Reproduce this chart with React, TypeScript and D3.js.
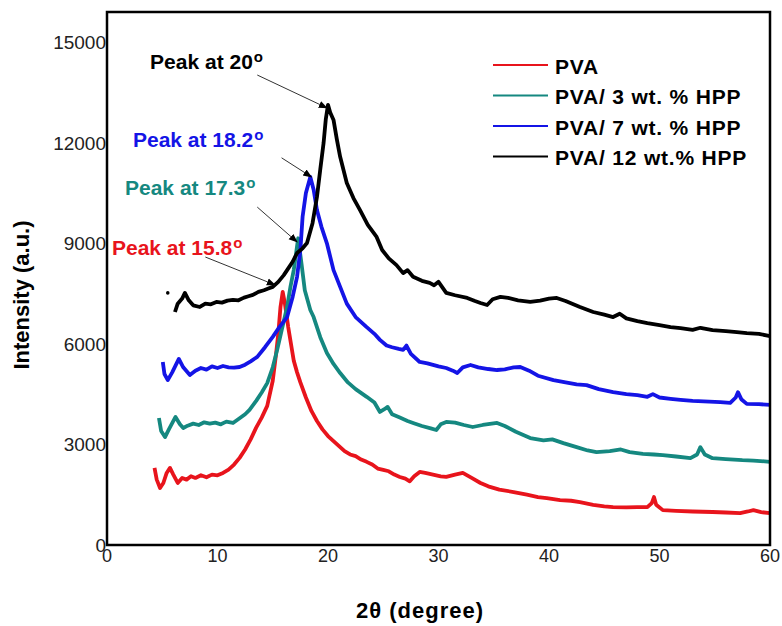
import * as d3 from 'd3';

// XRD patterns, [2θ, intensity]
const pva: [number, number][] = [
  [4.3, 2300], [4.5, 1950], [4.8, 1700], [5.1, 1850], [5.4, 2150], [5.7, 2300], [6.0, 2100], [6.4, 1850],
  [6.8, 2000], [7.2, 1950], [7.6, 2050], [8.0, 2000], [8.5, 2080], [9.0, 2020], [9.5, 2100], [10.0, 2080],
  [10.5, 2150], [11.0, 2250], [11.5, 2400], [12.0, 2600], [12.5, 2850], [13.0, 3150], [13.5, 3500], [14.0, 3800],
  [14.5, 4150], [15.0, 4900], [15.3, 5700], [15.5, 6300], [15.7, 7100], [15.9, 7550], [16.1, 7200], [16.4, 6500],
  [16.7, 5900], [16.9, 5500], [17.2, 5150], [17.5, 4850], [18.0, 4400], [18.5, 4000], [19.0, 3700], [19.5, 3450],
  [20.0, 3250], [20.5, 3100], [21.0, 2950], [21.5, 2800], [22.0, 2700], [22.5, 2650], [23.0, 2550], [23.5, 2480],
  [24.0, 2400], [24.5, 2280], [25.0, 2240], [25.5, 2200], [26.0, 2100], [26.5, 2030], [27.0, 1980], [27.4, 1900],
  [27.8, 2050], [28.3, 2180], [28.8, 2150], [29.5, 2100], [30.2, 2050], [30.7, 2030], [31.5, 2100], [32.2, 2150],
  [33.0, 2000], [33.8, 1850], [34.5, 1750], [35.5, 1650], [36.8, 1580], [38.0, 1500], [39.0, 1430], [39.8, 1400],
  [41.0, 1340], [42.0, 1320], [42.8, 1280], [44.0, 1200], [45.0, 1150], [45.8, 1130], [47.0, 1120], [48.0, 1130],
  [48.9, 1130], [49.3, 1250], [49.5, 1430], [49.7, 1200], [50.3, 1040], [51.5, 1020], [53.0, 1000], [54.8, 985],
  [56.0, 970], [57.3, 950], [58.0, 1000], [58.5, 1040], [59.2, 980], [60, 950],
];

const pva3: [number, number][] = [
  [4.7, 3790], [4.9, 3400], [5.25, 3220], [5.6, 3450], [6.2, 3820], [6.6, 3600], [6.9, 3490], [7.3, 3560],
  [7.8, 3620], [8.3, 3580], [8.8, 3660], [9.3, 3620], [9.8, 3650], [10.3, 3600], [10.8, 3680], [11.4, 3640],
  [12.0, 3780], [12.5, 3900], [12.9, 4030], [13.5, 4300], [14.0, 4550], [14.5, 4830], [15.0, 5300], [15.4, 5820],
  [15.8, 6400], [16.3, 7100], [16.6, 7700], [16.9, 8200], [17.3, 9150], [17.6, 8400], [17.9, 7600], [18.4, 7010],
  [18.7, 6800], [19.3, 6200], [19.9, 5730], [20.5, 5400], [21.1, 5130], [21.8, 4850], [22.5, 4650], [23.5, 4420],
  [24.2, 4250], [24.7, 3970], [25.1, 4050], [25.4, 4120], [25.8, 3900], [26.5, 3800], [27.2, 3700], [27.7, 3640],
  [28.5, 3550], [29.3, 3480], [29.8, 3430], [30.2, 3600], [30.7, 3670], [31.5, 3650], [32.3, 3580], [33.1, 3520],
  [34.0, 3580], [35.3, 3640], [36.0, 3550], [37.0, 3380], [38.3, 3190], [39.5, 3120], [40.3, 3150], [41.3, 3040],
  [42.5, 2920], [43.5, 2820], [44.3, 2770], [45.5, 2800], [46.5, 2850], [47.3, 2770], [48.5, 2720], [49.5, 2700],
  [50.3, 2680], [51.5, 2640], [52.8, 2590], [53.4, 2700], [53.7, 2920], [54.1, 2700], [54.8, 2590], [56.0, 2560],
  [57.5, 2530], [58.5, 2520], [60, 2480],
];

const pva7: [number, number][] = [
  [5.05, 5460], [5.2, 5100], [5.5, 4920], [5.9, 5150], [6.5, 5550], [6.9, 5300], [7.5, 5070], [8.0, 5200],
  [8.5, 5280], [9.0, 5230], [9.5, 5330], [10.0, 5280], [10.5, 5340], [11.0, 5300], [11.5, 5290], [12.0, 5310],
  [12.5, 5380], [13.0, 5480], [13.6, 5610], [14.3, 5900], [15.0, 6210], [15.6, 6500], [16.3, 6800], [16.8, 7400],
  [17.2, 8000], [17.5, 8800], [17.7, 9790], [18.0, 10500], [18.4, 10980], [18.7, 10600], [19.0, 9990], [19.4, 9500],
  [19.9, 9000], [20.5, 8200], [21.1, 7700], [21.7, 7200], [22.5, 6800], [23.5, 6500], [24.2, 6300], [24.7, 6120],
  [25.3, 5950], [25.8, 5900], [26.4, 5850], [26.8, 5820], [27.1, 5950], [27.5, 5700], [28.3, 5460], [29.0, 5420],
  [30.0, 5330], [30.7, 5280], [31.3, 5200], [31.7, 5130], [32.2, 5300], [32.9, 5370], [33.6, 5300], [34.5, 5250],
  [35.3, 5220], [36.0, 5240], [36.8, 5300], [37.4, 5310], [38.2, 5200], [39.0, 5050], [40.4, 4920], [41.5, 4850],
  [42.5, 4790], [43.4, 4770], [44.5, 4650], [45.8, 4560], [47.0, 4500], [48.0, 4470], [48.9, 4420], [49.4, 4500],
  [50.0, 4400], [51.0, 4360], [51.9, 4330], [53.0, 4300], [54.5, 4280], [55.5, 4260], [56.4, 4240], [56.9, 4400],
  [57.1, 4560], [57.4, 4350], [57.9, 4210], [59.0, 4200], [60, 4180],
];

const pva12: [number, number][] = [
  [6.15, 6950], [6.4, 7200], [6.8, 7350], [7.05, 7520], [7.4, 7300], [7.8, 7150], [8.4, 7100], [8.9, 7200],
  [9.4, 7180], [9.9, 7250], [10.4, 7230], [10.9, 7290], [11.4, 7310], [11.9, 7300], [12.4, 7380], [12.8, 7420],
  [13.2, 7460], [13.7, 7550], [14.2, 7600], [14.6, 7650], [15.0, 7700], [15.5, 7850], [16.0, 8050], [16.3, 8200],
  [16.8, 8450], [17.2, 8710], [17.7, 8850], [18.1, 9010], [18.6, 9600], [19.0, 10380], [19.3, 11200], [19.6, 11990],
  [19.8, 12700], [20.0, 13130], [20.2, 12900], [20.5, 12680], [20.8, 12100], [21.1, 11580], [21.7, 10800], [22.3, 10350],
  [22.9, 9990], [23.6, 9550], [24.4, 9190], [24.9, 8800], [25.5, 8550], [26.2, 8350], [26.8, 8110], [27.2, 8200],
  [27.7, 8000], [28.5, 7880], [29.2, 7820], [29.6, 7750], [30.0, 7850], [30.7, 7520], [31.5, 7450], [32.6, 7370],
  [33.3, 7280], [33.8, 7220], [34.4, 7160], [34.9, 7330], [35.6, 7400], [36.3, 7370], [37.2, 7300], [38.3, 7250],
  [39.2, 7290], [40.0, 7350], [40.7, 7370], [41.5, 7280], [42.8, 7100], [44.0, 6950], [45.0, 6870], [45.8, 6800],
  [46.4, 6900], [47.0, 6760], [48.0, 6680], [48.9, 6620], [50.0, 6560], [51.0, 6500], [51.9, 6470], [53.0, 6420],
  [53.7, 6480], [54.8, 6410], [56.0, 6380], [57.0, 6350], [57.9, 6320], [59.0, 6300], [60, 6230],
];
const pva12Stray: [number, number][] = [[5.5, 7520]];

const seriesNames = ['PVA', 'PVA/ 3 wt. % HPP', 'PVA/ 7 wt. % HPP', 'PVA/ 12 wt.% HPP'];
const seriesColors = ['#e8141c', '#158880', '#1414e6', '#000000'];
const seriesData = [pva, pva3, pva7, pva12];

const xTicks = [0, 10, 20, 30, 40, 50, 60];
const yTicks = [0, 3000, 6000, 9000, 12000, 15000];

// peak annotations: label, text anchor (data), arrow start and tip (data)
const peakLabels = ['Peak at 20', 'Peak at 18.2', 'Peak at 17.3', 'Peak at 15.8'];
const peakColors = ['#000000', '#1414e6', '#158880', '#e8141c'];
const peakTextPos: [number, number][] = [[3.9, 14200], [2.35, 11870], [1.63, 10440], [0.45, 8650]];
const arrowFrom: [number, number][] = [[13.6, 14020], [15.8, 11550], [13.6, 10080], [8.9, 8590]];
const arrowTo: [number, number][] = [[19.9, 13040], [18.5, 10980], [17.2, 9040], [15.2, 7760]];

const W = 782;
const H = 626;
const m = { left: 107, right: 12, top: 12, bottom: 81 };
const font = "'Liberation Sans', Arial, sans-serif";

export default function App() {
  const x = d3.scaleLinear().domain([0, 60]).range([m.left, W - m.right]);
  const y = d3.scaleLinear().domain([0, 15900]).range([H - m.bottom, m.top]);
  const line = d3
    .line<[number, number]>()
    .x((d) => x(d[0]))
    .y((d) => y(d[1]))
    .curve(d3.curveLinear);

  return (
    <svg width={W} height={H} style={{ position: 'absolute', left: 0, top: 0, background: '#fff' }} fontFamily={font}>
      <defs>
        <marker id="arrow" viewBox="0 0 10 10" refX="9" refY="5" markerWidth="9" markerHeight="9" orient="auto" markerUnits="userSpaceOnUse">
          <path d="M0,1 L10,5 L0,9 z" fill="#000" />
        </marker>
      </defs>

      {/* curves */}
      {seriesData.map((d, i) => (
        <path key={i} d={line(d) || ''} fill="none" stroke={seriesColors[i]} strokeWidth={3.8} strokeLinejoin="round" />
      ))}
      {pva12Stray.map((d, i) => (
        <circle key={i} cx={x(d[0])} cy={y(d[1])} r={1.8} fill="#000" />
      ))}

      {/* frame */}
      <rect x={m.left} y={m.top} width={W - m.left - m.right} height={H - m.top - m.bottom} fill="none" stroke="#000" strokeWidth={2.5} />

      {/* ticks */}
      {yTicks.map((t) => (
        <text key={t} x={m.left - 1} y={y(t)} dy="0.36em" textAnchor="end" fontSize={19} fill="#222">
          {t}
        </text>
      ))}
      {xTicks.map((t) => (
        <text key={t} x={x(t)} y={H - m.bottom + 17} textAnchor="middle" fontSize={18} fill="#222">
          {t}
        </text>
      ))}

      {/* axis titles */}
      <text x={420} y={618} textAnchor="middle" fontSize={22} fontWeight="bold" letterSpacing={1}>
        2θ (degree)
      </text>
      <text transform="translate(21,295) rotate(-90)" textAnchor="middle" dominantBaseline="central" fontSize={22} fontWeight="bold">
        Intensity (a.u.)
      </text>

      {/* annotations */}
      {peakLabels.map((lab, i) => (
        <g key={lab}>
          <line
            x1={x(arrowFrom[i][0])}
            y1={y(arrowFrom[i][1])}
            x2={x(arrowTo[i][0])}
            y2={y(arrowTo[i][1])}
            stroke="#333"
            strokeWidth={1}
            markerEnd="url(#arrow)"
          />
          <text x={x(peakTextPos[i][0])} y={y(peakTextPos[i][1])} fontSize={21} fontWeight="bold" fill={peakColors[i]}>
            {lab}
            <tspan dx={1} dy={-7} fontSize={15}>o</tspan>
          </text>
        </g>
      ))}

      {/* legend */}
      {seriesNames.map((name, i) => (
        <g key={name} transform={`translate(493,${65 + i * 30.5})`}>
          <line x1={0} x2={55} y1={0} y2={0} stroke={seriesColors[i]} strokeWidth={2} />
          <text x={62} y={1} dominantBaseline="central" fontSize={21} fontWeight="bold" letterSpacing={0.8}>
            {name}
          </text>
        </g>
      ))}
    </svg>
  );
}
